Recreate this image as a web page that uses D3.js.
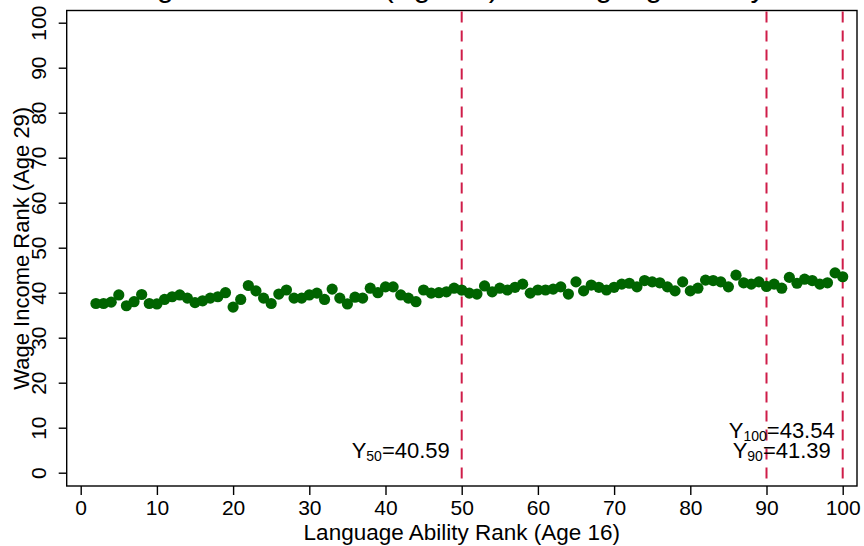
<!DOCTYPE html>
<html>
<head>
<meta charset="utf-8">
<script src="https://cdn.jsdelivr.net/npm/d3@7"></script>
<style>
  body { margin: 0; background: #fff; }
  text { font-family: "Liberation Sans", Arial, sans-serif; fill: #000; }
</style>
</head>
<body>
<div id="chart"></div>
<script>
// language ability rank (age 16)
var ranks = [2, 3, 4, 5, 6, 7, 8, 9, 10, 11, 12, 13, 14, 15, 16, 17, 18, 19, 20,
  21, 22, 23, 24, 25, 26, 27, 28, 29, 30, 31, 32, 33, 34, 35, 36, 37, 38, 39, 40,
  41, 42, 43, 44, 45, 46, 47, 48, 49, 50, 51, 52, 53, 54, 55, 56, 57, 58, 59, 60,
  61, 62, 63, 64, 65, 66, 67, 68, 69, 70, 71, 72, 73, 74, 75, 76, 77, 78, 79, 80,
  81, 82, 83, 84, 85, 86, 87, 88, 89, 90, 91, 92, 93, 94, 95, 96, 97, 98, 99, 100];

// mean wage income rank (age 29)
var wageRank = [37.6, 37.6, 37.9, 39.5, 37.1, 38.0, 39.6, 37.6, 37.5, 38.5,
  39.1, 39.5, 38.8, 37.8, 38.2, 38.8, 39.1, 40.0, 36.8, 38.5,
  41.6, 40.4, 38.8, 37.6, 39.7, 40.6, 38.8, 38.8, 39.5, 39.9,
  38.5, 40.8, 38.8, 37.5, 39.0, 38.8, 41.0, 40.0, 41.3, 41.3,
  39.5, 38.8, 38.0, 40.6, 39.9, 40.0, 40.2, 41.0, 40.59, 39.9,
  39.7, 41.5, 40.2, 41.0, 40.6, 41.2, 41.9, 39.9, 40.6, 40.6,
  40.8, 41.3, 39.7, 42.4, 40.4, 41.7, 41.2, 40.6, 41.2, 41.9,
  42.1, 41.3, 42.7, 42.4, 42.2, 41.3, 40.4, 42.4, 40.4, 41.0,
  42.8, 42.7, 42.4, 41.3, 43.9, 42.2, 41.9, 42.4, 41.39, 41.9,
  41.0, 43.4, 42.1, 43.0, 42.7, 41.9, 42.2, 44.4, 43.54];

var xTicks = [0, 10, 20, 30, 40, 50, 60, 70, 80, 90, 100];
var yTicks = [0, 10, 20, 30, 40, 50, 60, 70, 80, 90, 100];

// reference lines and their labels
var refLines = [50, 90, 100];
var refLabels = [
  { sub: "50", val: "40.59", x: 42, y: 5 },
  { sub: "90", val: "41.39", x: 92, y: 5 },
  { sub: "100", val: "43.54", x: 92, y: 9.6 }
];

var titleText = "Wage Income Rank (Age 29) vs Language Ability";
var xTitle = "Language Ability Rank (Age 16)";
var yTitle = "Wage Income Rank (Age 29)";

var w = 864;
var h = 546;

// plot frame
var frameL = 66.7, frameR = 857, frameT = 10.5, frameB = 486;

var x = d3.scaleLinear().domain([0, 100]).range([80.7, 842.7]);
var y = d3.scaleLinear().domain([0, 100]).range([472.7, 22.7]);

var svg = d3.select("#chart")
  .append("svg")
  .attr("width", w)
  .attr("height", h);

svg.append("rect")
  .attr("width", w)
  .attr("height", h)
  .attr("fill", "#fff");

// title, mostly cut off at the top
svg.append("text")
  .attr("x", 113)
  .attr("y", -3)
  .style("font-size", "30px")
  .text(titleText);

// frame
svg.append("rect")
  .attr("x", frameL)
  .attr("y", frameT)
  .attr("width", frameR - frameL)
  .attr("height", frameB - frameT)
  .attr("fill", "none")
  .attr("stroke", "#000")
  .attr("stroke-width", 1.4);

// axes
var xAxis = svg.append("g")
  .attr("transform", "translate(0," + frameB + ")")
  .call(d3.axisBottom(x).tickValues(xTicks).tickSize(9).tickSizeOuter(0).tickPadding(5));

var yAxis = svg.append("g")
  .attr("transform", "translate(" + frameL + ",0)")
  .call(d3.axisLeft(y).tickValues(yTicks).tickSize(8).tickSizeOuter(0));

[xAxis, yAxis].forEach(function(a) {
  a.select(".domain").remove();
  a.selectAll(".tick line").attr("stroke", "#000").attr("stroke-width", 1.4);
  a.selectAll(".tick text")
    .style("font-size", "21px")
    .style("font-family", "'Liberation Sans', Arial, sans-serif")
    .attr("fill", "#000");
});

// rotate the y tick labels
yAxis.selectAll(".tick text")
  .attr("transform", "rotate(-90)")
  .attr("x", 0)
  .attr("y", -20.5)
  .attr("dy", null)
  .attr("text-anchor", "middle");

// axis titles
svg.append("text")
  .attr("x", (frameL + frameR) / 2)
  .attr("y", 540)
  .attr("text-anchor", "middle")
  .style("font-size", "22.5px")
  .text(xTitle);

svg.append("text")
  .attr("transform", "translate(29," + (frameT + frameB) / 2 + ") rotate(-90)")
  .attr("text-anchor", "middle")
  .style("font-size", "22px")
  .text(yTitle);

// dashed reference lines
svg.selectAll(".refline")
  .data(refLines)
  .enter()
  .append("line")
  .attr("class", "refline")
  .attr("x1", function(d) { return x(d); })
  .attr("x2", function(d) { return x(d); })
  .attr("y1", frameT + 1)
  .attr("y2", frameB - 1)
  .attr("stroke", "#cf1d49")
  .attr("stroke-width", 2)
  .attr("stroke-dasharray", "11,8");

// dots
var points = ranks.map(function(r, i) { return { r: r, v: wageRank[i] }; });

svg.selectAll(".dot")
  .data(points)
  .enter()
  .append("circle")
  .attr("class", "dot")
  .attr("cx", function(d) { return x(d.r); })
  .attr("cy", function(d) { return y(d.v); })
  .attr("r", 5.6)
  .attr("fill", "#006400");

// Y_k labels
var lab = svg.selectAll(".reflabel")
  .data(refLabels)
  .enter()
  .append("text")
  .attr("class", "reflabel")
  .attr("x", function(d) { return x(d.x); })
  .attr("y", function(d) { return y(d.y) + 8; })
  .attr("text-anchor", "middle")
  .style("font-size", "22px");

lab.append("tspan").text("Y");
lab.append("tspan")
  .attr("dy", 3)
  .style("font-size", "14px")
  .text(function(d) { return d.sub; });
lab.append("tspan")
  .attr("dy", -3)
  .text(function(d) { return "=" + d.val; });
</script>
</body>
</html>
